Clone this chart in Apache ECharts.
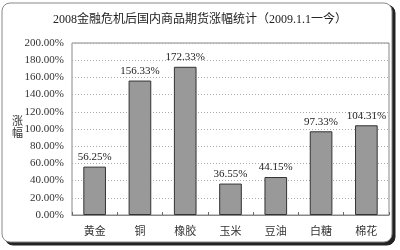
<!DOCTYPE html>
<html><head><meta charset="utf-8">
<script src="https://cdn.jsdelivr.net/npm/echarts@6/dist/echarts.min.js"></script>
<style>html,body{margin:0;padding:0;background:#fff}#c{width:400px;height:250px}</style>
</head><body><div id="c"></div>
<script>
var categories = ['黄金','铜','橡胶','玉米','豆油','白糖','棉花'];
var values = [56.25, 156.33, 172.33, 36.55, 44.15, 97.33, 104.31];
var yTicks = [0, 20, 40, 60, 80, 100, 120, 140, 160, 180, 200];
var titleText = '2008金融危机后国内商品期货涨幅统计（2009.1.1一今）';
var yName = '涨幅';

var FONT = '"Liberation Serif", "Noto Sans CJK SC", serif';
var chart = echarts.init(document.getElementById('c'), null, {renderer:'canvas'});
chart.setOption({
  animation: false,
  backgroundColor: '#fff',
  graphic: [
    {type:'rect', shape:{x:5, y:5, width:390, height:240, r:8}, style:{fill:'#222', stroke:'#222', lineWidth:1}, z:-10},
    {type:'rect', shape:{x:2, y:3, width:390, height:239, r:8}, style:{fill:'#fff', stroke:'#888', lineWidth:1}, z:-9},
    {type:'text', left:12, top:116, style:{text:yName.split('').join('\n'), font:'11px ' + FONT, fill:'#333', lineHeight:12}}
  ],
  title: {
    text: titleText, left: 'center', top: 9,
    textStyle: {fontSize: 12, fontWeight: 'normal', color: '#222', fontFamily: FONT}
  },
  grid: {left: 72, right: 11, top: 43, bottom: 35, show: true, borderColor: '#888', borderWidth: 1, backgroundColor: 'transparent'},
  xAxis: {
    type: 'category', data: categories,
    axisLine: {show: true, lineStyle: {color: '#888'}},
    axisTick: {show: true, inside: true, length: 3, lineStyle: {color: '#666'}},
    axisLabel: {fontSize: 11, color: '#333', fontFamily: FONT, margin: 12}
  },
  yAxis: {
    type: 'value', min: 0, max: 200, interval: 20,
    axisLine: {show: false}, axisTick: {show: false},
    splitLine: {show: true, lineStyle: {color: '#aaa', type: [1, 2], width: 1}},
    axisLabel: {fontSize: 11, color: '#333', fontFamily: FONT, margin: 8,
      formatter: function(v){ return v.toFixed(2) + '%'; }}
  },
  series: [{
    type: 'bar', data: values, barWidth: '50%',
    itemStyle: {color: '#999999', borderColor: '#333', borderWidth: 1},
    label: {show: true, position: 'top', distance: 4, fontSize: 11, color: '#222', fontFamily: FONT,
      formatter: function(p){ return p.value.toFixed(2) + '%'; }}
  }]
});
</script></body></html>
